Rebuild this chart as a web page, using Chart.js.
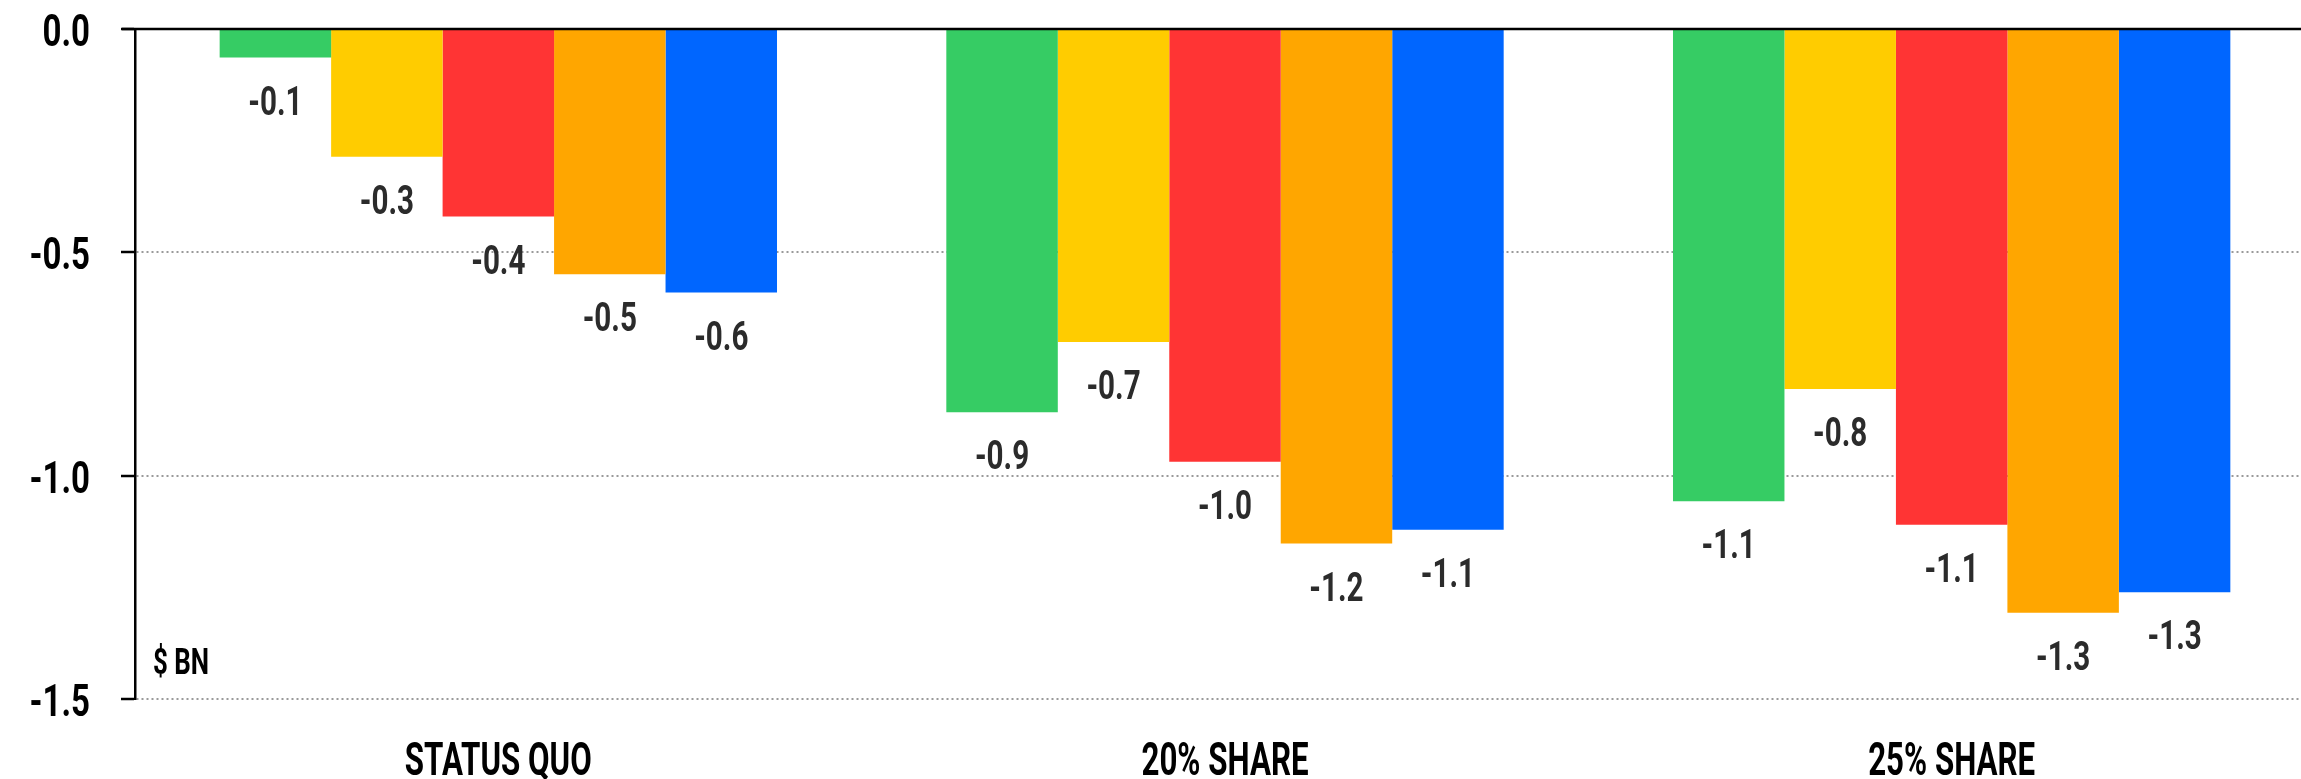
<!DOCTYPE html>
<html>
<head>
<meta charset="utf-8">
<title>Fiscal impact</title>
<script src="https://cdn.jsdelivr.net/npm/chart.js@4/dist/chart.umd.min.js"></script>
<style>
  html, body { margin: 0; padding: 0; background: #fff; overflow: hidden; }
  #wrap { width: 2301px; height: 779px; overflow: hidden; }
</style>
</head>
<body>
<div id="wrap"><canvas id="chart" width="2315" height="779"></canvas></div>
<script>
// --- data ---
const categories = ['STATUS QUO', '20% SHARE', '25% SHARE'];
const greenVals  = [-0.064, -0.858, -1.057];
const yellowVals = [-0.286, -0.701, -0.806];
const redVals    = [-0.420, -0.969, -1.110];
const orangeVals = [-0.549, -1.152, -1.307];
const blueVals   = [-0.590, -1.121, -1.261];
const yTicks = [0, -0.5, -1.0, -1.5];
const unitLabel = '$ BN';

const FONT = "Roboto, 'Liberation Sans', sans-serif";

const series = [
    { data: greenVals,  color: '#36CC64' },
    { data: yellowVals, color: '#FFCC00' },
    { data: redVals,    color: '#FF3434' },
    { data: orangeVals, color: '#FFA600' },
    { data: blueVals,   color: '#0066FF' }
];

// draw text squeezed horizontally (the original uses a condensed face)
function narrowText(ctx, text, x, y, align, sx) {
    ctx.save();
    ctx.translate(x, y);
    ctx.scale(sx, 1);
    ctx.textAlign = align;
    ctx.textBaseline = 'alphabetic';
    ctx.fillText(text, 0, 0);
    ctx.restore();
}

const extras = {
    id: 'extras',
    afterDatasetsDraw(chart) {
        const { ctx, chartArea, scales } = chart;
        ctx.save();

        // solid zero line over the bars' tops
        const y0 = scales.y.getPixelForValue(0);
        ctx.strokeStyle = '#000';
        ctx.lineWidth = 2.5;
        ctx.beginPath();
        ctx.moveTo(chartArea.left - 13, y0);
        ctx.lineTo(chart.width, y0);
        ctx.stroke();

        // y tick labels
        ctx.fillStyle = '#000';
        ctx.font = 'bold 44px ' + FONT;
        yTicks.forEach(v => {
            narrowText(ctx, v.toFixed(1), 90, scales.y.getPixelForValue(v) + 17, 'right', 0.75);
        });

        // category labels
        ctx.font = 'bold 46px ' + FONT;
        categories.forEach((c, i) => {
            narrowText(ctx, c, scales.x.getPixelForTick(i), 775, 'center', 0.68);
        });

        // value labels under each bar
        ctx.fillStyle = '#2b2b2b';
        ctx.font = 'bold 40px ' + FONT;
        chart.data.datasets.forEach((ds, i) => {
            chart.getDatasetMeta(i).data.forEach((bar, j) => {
                narrowText(ctx, ds.data[j].toFixed(1), bar.x, bar.y + 57, 'center', 0.74);
            });
        });

        // unit text
        ctx.fillStyle = '#000';
        ctx.font = 'bold 36px ' + FONT;
        narrowText(ctx, unitLabel, chartArea.left + 18, chartArea.bottom - 25, 'left', 0.72);

        ctx.restore();
    }
};

new Chart(document.getElementById('chart'), {
    type: 'bar',
    data: {
        labels: categories,
        datasets: series.map(s => ({
            data: s.data,
            backgroundColor: s.color,
            borderWidth: 0,
            categoryPercentage: 0.767,
            barPercentage: 1.0
        }))
    },
    options: {
        responsive: false,
        animation: false,
        devicePixelRatio: 1,
        layout: { padding: { top: 29, right: 0, bottom: 0, left: 0 } },
        plugins: { legend: { display: false }, tooltip: { enabled: false } },
        scales: {
            x: {
                grid: { display: false, drawTicks: false },
                border: { display: false },
                ticks: { display: false },
                afterFit(scale) { scale.height = 80; }
            },
            y: {
                min: -1.5,
                max: 0,
                afterBuildTicks(scale) { scale.ticks = yTicks.map(v => ({ value: v })); },
                grid: {
                    color: '#9a9a9a',
                    lineWidth: 2,
                    tickLength: 14,
                    tickColor: '#000',
                    tickWidth: 2.5,
                    tickBorderDash: []
                },
                border: { display: true, color: '#000', width: 2.5, dash: [2, 3] },
                ticks: { display: false },
                afterFit(scale) { scale.width = 135; }
            }
        }
    },
    plugins: [extras]
});
</script>
</body>
</html>
